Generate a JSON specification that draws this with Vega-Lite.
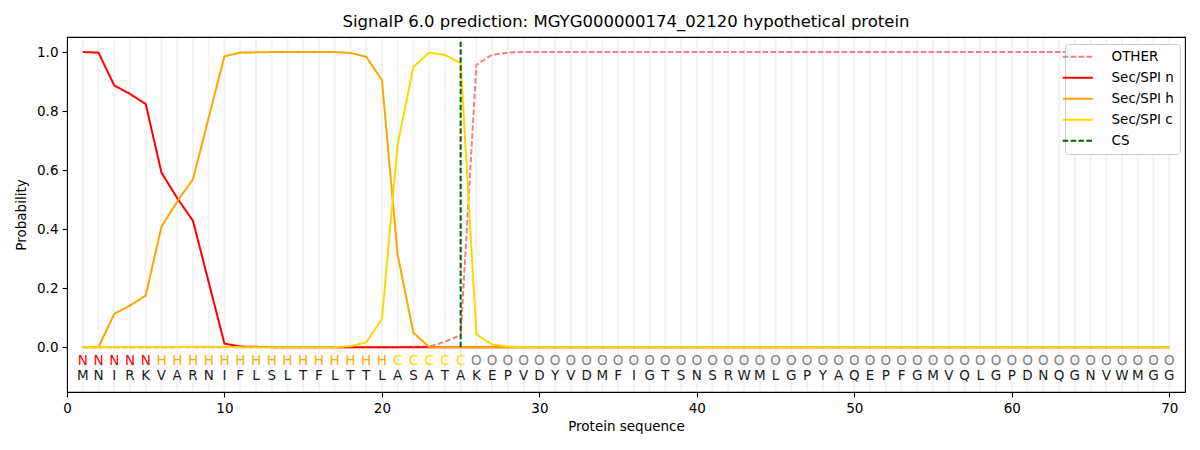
{
  "$schema": "https://vega.github.io/schema/vega-lite/v6.json",
  "description": "SignalP 6.0 per-residue probabilities for MGYG000000174_02120",
  "width": 1118,
  "height": 355,
  "autosize": "none",
  "padding": {"left": 67, "top": 37, "right": 15, "bottom": 58},
  "background": "white",
  "title": {
    "text": "SignalP 6.0 prediction: MGYG000000174_02120 hypothetical protein",
    "fontSize": 16.5,
    "fontWeight": "normal",
    "font": "DejaVu Sans",
    "color": "black",
    "anchor": "middle",
    "offset": 7
  },
  "datasets": {
    "res": [
      {"pos": 1, "aa": "M", "lab": "N", "OTHER": 0, "Sec/SPI n": 1.0, "Sec/SPI h": 0, "Sec/SPI c": 0},
      {"pos": 2, "aa": "N", "lab": "N", "OTHER": 0, "Sec/SPI n": 0.998, "Sec/SPI h": 0.0, "Sec/SPI c": 0},
      {"pos": 3, "aa": "I", "lab": "N", "OTHER": 0, "Sec/SPI n": 0.887, "Sec/SPI h": 0.113, "Sec/SPI c": 0},
      {"pos": 4, "aa": "R", "lab": "N", "OTHER": 0, "Sec/SPI n": 0.858, "Sec/SPI h": 0.141, "Sec/SPI c": 0},
      {"pos": 5, "aa": "K", "lab": "N", "OTHER": 0, "Sec/SPI n": 0.824, "Sec/SPI h": 0.175, "Sec/SPI c": 0},
      {"pos": 6, "aa": "V", "lab": "H", "OTHER": 0, "Sec/SPI n": 0.591, "Sec/SPI h": 0.408, "Sec/SPI c": 0},
      {"pos": 7, "aa": "A", "lab": "H", "OTHER": 0, "Sec/SPI n": 0.505, "Sec/SPI h": 0.494, "Sec/SPI c": 0},
      {"pos": 8, "aa": "R", "lab": "H", "OTHER": 0, "Sec/SPI n": 0.428, "Sec/SPI h": 0.569, "Sec/SPI c": 0.001},
      {"pos": 9, "aa": "N", "lab": "H", "OTHER": 0, "Sec/SPI n": 0.22, "Sec/SPI h": 0.778, "Sec/SPI c": 0.001},
      {"pos": 10, "aa": "I", "lab": "H", "OTHER": 0, "Sec/SPI n": 0.012, "Sec/SPI h": 0.986, "Sec/SPI c": 0.001},
      {"pos": 11, "aa": "F", "lab": "H", "OTHER": 0, "Sec/SPI n": 0.002, "Sec/SPI h": 0.998, "Sec/SPI c": 0},
      {"pos": 12, "aa": "L", "lab": "H", "OTHER": 0, "Sec/SPI n": 0.001, "Sec/SPI h": 0.999, "Sec/SPI c": 0},
      {"pos": 13, "aa": "S", "lab": "H", "OTHER": 0, "Sec/SPI n": 0, "Sec/SPI h": 1.0, "Sec/SPI c": 0},
      {"pos": 14, "aa": "L", "lab": "H", "OTHER": 0, "Sec/SPI n": 0, "Sec/SPI h": 1.0, "Sec/SPI c": 0},
      {"pos": 15, "aa": "T", "lab": "H", "OTHER": 0, "Sec/SPI n": 0, "Sec/SPI h": 1.0, "Sec/SPI c": 0},
      {"pos": 16, "aa": "F", "lab": "H", "OTHER": 0, "Sec/SPI n": 0, "Sec/SPI h": 1.0, "Sec/SPI c": 0},
      {"pos": 17, "aa": "L", "lab": "H", "OTHER": 0, "Sec/SPI n": 0, "Sec/SPI h": 1.0, "Sec/SPI c": 0},
      {"pos": 18, "aa": "T", "lab": "H", "OTHER": 0, "Sec/SPI n": 0, "Sec/SPI h": 0.997, "Sec/SPI c": 0.003},
      {"pos": 19, "aa": "T", "lab": "H", "OTHER": 0, "Sec/SPI n": 0, "Sec/SPI h": 0.984, "Sec/SPI c": 0.016},
      {"pos": 20, "aa": "L", "lab": "H", "OTHER": 0, "Sec/SPI n": 0, "Sec/SPI h": 0.905, "Sec/SPI c": 0.095},
      {"pos": 21, "aa": "A", "lab": "C", "OTHER": 0, "Sec/SPI n": 0, "Sec/SPI h": 0.312, "Sec/SPI c": 0.687},
      {"pos": 22, "aa": "S", "lab": "C", "OTHER": 0.001, "Sec/SPI n": 0, "Sec/SPI h": 0.049, "Sec/SPI c": 0.95},
      {"pos": 23, "aa": "A", "lab": "C", "OTHER": 0.002, "Sec/SPI n": 0, "Sec/SPI h": 0.0, "Sec/SPI c": 0.998},
      {"pos": 24, "aa": "T", "lab": "C", "OTHER": 0.018, "Sec/SPI n": 0, "Sec/SPI h": 0, "Sec/SPI c": 0.99},
      {"pos": 25, "aa": "A", "lab": "C", "OTHER": 0.041, "Sec/SPI n": 0, "Sec/SPI h": 0, "Sec/SPI c": 0.962},
      {"pos": 26, "aa": "K", "lab": "O", "OTHER": 0.957, "Sec/SPI n": 0, "Sec/SPI h": 0, "Sec/SPI c": 0.043},
      {"pos": 27, "aa": "E", "lab": "O", "OTHER": 0.991, "Sec/SPI n": 0, "Sec/SPI h": 0, "Sec/SPI c": 0.009},
      {"pos": 28, "aa": "P", "lab": "O", "OTHER": 0.998, "Sec/SPI n": 0, "Sec/SPI h": 0, "Sec/SPI c": 0.002},
      {"pos": 29, "aa": "V", "lab": "O", "OTHER": 1.0, "Sec/SPI n": 0, "Sec/SPI h": 0, "Sec/SPI c": 0},
      {"pos": 30, "aa": "D", "lab": "O", "OTHER": 1.0, "Sec/SPI n": 0, "Sec/SPI h": 0, "Sec/SPI c": 0},
      {"pos": 31, "aa": "Y", "lab": "O", "OTHER": 1.0, "Sec/SPI n": 0, "Sec/SPI h": 0, "Sec/SPI c": 0},
      {"pos": 32, "aa": "V", "lab": "O", "OTHER": 1.0, "Sec/SPI n": 0, "Sec/SPI h": 0, "Sec/SPI c": 0},
      {"pos": 33, "aa": "D", "lab": "O", "OTHER": 1.0, "Sec/SPI n": 0, "Sec/SPI h": 0, "Sec/SPI c": 0},
      {"pos": 34, "aa": "M", "lab": "O", "OTHER": 1.0, "Sec/SPI n": 0, "Sec/SPI h": 0, "Sec/SPI c": 0},
      {"pos": 35, "aa": "F", "lab": "O", "OTHER": 1.0, "Sec/SPI n": 0, "Sec/SPI h": 0, "Sec/SPI c": 0},
      {"pos": 36, "aa": "I", "lab": "O", "OTHER": 1.0, "Sec/SPI n": 0, "Sec/SPI h": 0, "Sec/SPI c": 0},
      {"pos": 37, "aa": "G", "lab": "O", "OTHER": 1.0, "Sec/SPI n": 0, "Sec/SPI h": 0, "Sec/SPI c": 0},
      {"pos": 38, "aa": "T", "lab": "O", "OTHER": 1.0, "Sec/SPI n": 0, "Sec/SPI h": 0, "Sec/SPI c": 0},
      {"pos": 39, "aa": "S", "lab": "O", "OTHER": 1.0, "Sec/SPI n": 0, "Sec/SPI h": 0, "Sec/SPI c": 0},
      {"pos": 40, "aa": "N", "lab": "O", "OTHER": 1.0, "Sec/SPI n": 0, "Sec/SPI h": 0, "Sec/SPI c": 0},
      {"pos": 41, "aa": "S", "lab": "O", "OTHER": 1.0, "Sec/SPI n": 0, "Sec/SPI h": 0, "Sec/SPI c": 0},
      {"pos": 42, "aa": "R", "lab": "O", "OTHER": 1.0, "Sec/SPI n": 0, "Sec/SPI h": 0, "Sec/SPI c": 0},
      {"pos": 43, "aa": "W", "lab": "O", "OTHER": 1.0, "Sec/SPI n": 0, "Sec/SPI h": 0, "Sec/SPI c": 0},
      {"pos": 44, "aa": "M", "lab": "O", "OTHER": 1.0, "Sec/SPI n": 0, "Sec/SPI h": 0, "Sec/SPI c": 0},
      {"pos": 45, "aa": "L", "lab": "O", "OTHER": 1.0, "Sec/SPI n": 0, "Sec/SPI h": 0, "Sec/SPI c": 0},
      {"pos": 46, "aa": "G", "lab": "O", "OTHER": 1.0, "Sec/SPI n": 0, "Sec/SPI h": 0, "Sec/SPI c": 0},
      {"pos": 47, "aa": "P", "lab": "O", "OTHER": 1.0, "Sec/SPI n": 0, "Sec/SPI h": 0, "Sec/SPI c": 0},
      {"pos": 48, "aa": "Y", "lab": "O", "OTHER": 1.0, "Sec/SPI n": 0, "Sec/SPI h": 0, "Sec/SPI c": 0},
      {"pos": 49, "aa": "A", "lab": "O", "OTHER": 1.0, "Sec/SPI n": 0, "Sec/SPI h": 0, "Sec/SPI c": 0},
      {"pos": 50, "aa": "Q", "lab": "O", "OTHER": 1.0, "Sec/SPI n": 0, "Sec/SPI h": 0, "Sec/SPI c": 0},
      {"pos": 51, "aa": "E", "lab": "O", "OTHER": 1.0, "Sec/SPI n": 0, "Sec/SPI h": 0, "Sec/SPI c": 0},
      {"pos": 52, "aa": "P", "lab": "O", "OTHER": 1.0, "Sec/SPI n": 0, "Sec/SPI h": 0, "Sec/SPI c": 0},
      {"pos": 53, "aa": "F", "lab": "O", "OTHER": 1.0, "Sec/SPI n": 0, "Sec/SPI h": 0, "Sec/SPI c": 0},
      {"pos": 54, "aa": "G", "lab": "O", "OTHER": 1.0, "Sec/SPI n": 0, "Sec/SPI h": 0, "Sec/SPI c": 0},
      {"pos": 55, "aa": "M", "lab": "O", "OTHER": 1.0, "Sec/SPI n": 0, "Sec/SPI h": 0, "Sec/SPI c": 0},
      {"pos": 56, "aa": "V", "lab": "O", "OTHER": 1.0, "Sec/SPI n": 0, "Sec/SPI h": 0, "Sec/SPI c": 0},
      {"pos": 57, "aa": "Q", "lab": "O", "OTHER": 1.0, "Sec/SPI n": 0, "Sec/SPI h": 0, "Sec/SPI c": 0},
      {"pos": 58, "aa": "L", "lab": "O", "OTHER": 1.0, "Sec/SPI n": 0, "Sec/SPI h": 0, "Sec/SPI c": 0},
      {"pos": 59, "aa": "G", "lab": "O", "OTHER": 1.0, "Sec/SPI n": 0, "Sec/SPI h": 0, "Sec/SPI c": 0},
      {"pos": 60, "aa": "P", "lab": "O", "OTHER": 1.0, "Sec/SPI n": 0, "Sec/SPI h": 0, "Sec/SPI c": 0},
      {"pos": 61, "aa": "D", "lab": "O", "OTHER": 1.0, "Sec/SPI n": 0, "Sec/SPI h": 0, "Sec/SPI c": 0},
      {"pos": 62, "aa": "N", "lab": "O", "OTHER": 1.0, "Sec/SPI n": 0, "Sec/SPI h": 0, "Sec/SPI c": 0},
      {"pos": 63, "aa": "Q", "lab": "O", "OTHER": 1.0, "Sec/SPI n": 0, "Sec/SPI h": 0, "Sec/SPI c": 0},
      {"pos": 64, "aa": "G", "lab": "O", "OTHER": 1.0, "Sec/SPI n": 0, "Sec/SPI h": 0, "Sec/SPI c": 0},
      {"pos": 65, "aa": "N", "lab": "O", "OTHER": 1.0, "Sec/SPI n": 0, "Sec/SPI h": 0, "Sec/SPI c": 0},
      {"pos": 66, "aa": "V", "lab": "O", "OTHER": 1.0, "Sec/SPI n": 0, "Sec/SPI h": 0, "Sec/SPI c": 0},
      {"pos": 67, "aa": "W", "lab": "O", "OTHER": 1.0, "Sec/SPI n": 0, "Sec/SPI h": 0, "Sec/SPI c": 0},
      {"pos": 68, "aa": "M", "lab": "O", "OTHER": 1.0, "Sec/SPI n": 0, "Sec/SPI h": 0, "Sec/SPI c": 0},
      {"pos": 69, "aa": "G", "lab": "O", "OTHER": 1.0, "Sec/SPI n": 0, "Sec/SPI h": 0, "Sec/SPI c": 0},
      {"pos": 70, "aa": "G", "lab": "O", "OTHER": 1.0, "Sec/SPI n": 0, "Sec/SPI h": 0, "Sec/SPI c": 0}
    ],
    "cs": [
      {"pos": 25, "series": "CS", "lo": 0, "hi": 1.035}
    ]
  },
  "layer": [
    {
      "data": {"name": "res"},
      "mark": {"type": "rule", "color": "#f3f3f3", "strokeWidth": 2},
      "encoding": {
        "x": {"field": "pos", "type": "quantitative"},
        "y": {"datum": -0.148},
        "y2": {"datum": 1.047}
      }
    },
    {
      "data": {"name": "res"},
      "transform": [
        {"fold": ["OTHER", "Sec/SPI n", "Sec/SPI h", "Sec/SPI c"], "as": ["series", "prob"]}
      ],
      "mark": {"type": "line", "strokeWidth": 2},
      "encoding": {
        "x": {"field": "pos", "type": "quantitative"},
        "y": {"field": "prob", "type": "quantitative"},
        "color": {
          "field": "series",
          "type": "nominal",
          "scale": {
            "domain": ["OTHER", "Sec/SPI n", "Sec/SPI h", "Sec/SPI c", "CS"],
            "range": ["#f08080", "#ff0000", "#ffa500", "#ffd700", "#006400"]
          },
          "legend": {
            "title": null,
            "orient": "none",
            "legendX": 998,
            "legendY": 7,
            "symbolType": "M-3,0H3",
            "symbolSize": 100,
            "symbolStrokeWidth": 2,
            "symbolFillColor": "transparent",
            "labelFontSize": 13.5,
            "labelColor": "black",
            "rowPadding": 6,
            "padding": 6,
            "fillColor": "white",
            "strokeColor": "#cccccc",
            "cornerRadius": 3,
            "labelOffset": 27
          }
        },
        "strokeDash": {
          "field": "series",
          "type": "nominal",
          "scale": {
            "domain": ["OTHER", "Sec/SPI n", "Sec/SPI h", "Sec/SPI c", "CS"],
            "range": [[5.5, 2.4], [1, 0], [1, 0], [1, 0], [5.5, 2.4]]
          },
          "legend": {
            "title": null,
            "orient": "none",
            "legendX": 998,
            "legendY": 7,
            "symbolType": "M-3,0H3",
            "symbolSize": 100,
            "symbolStrokeWidth": 2,
            "symbolFillColor": "transparent",
            "labelFontSize": 13.5,
            "labelColor": "black",
            "rowPadding": 6,
            "padding": 6,
            "fillColor": "white",
            "strokeColor": "#cccccc",
            "cornerRadius": 3,
            "labelOffset": 27
          }
        }
      }
    },
    {
      "data": {"name": "cs"},
      "mark": {"type": "rule", "strokeWidth": 2},
      "encoding": {
        "x": {"field": "pos", "type": "quantitative"},
        "y": {"field": "lo", "type": "quantitative"},
        "y2": {"field": "hi"},
        "color": {"field": "series", "type": "nominal"},
        "strokeDash": {"field": "series", "type": "nominal"}
      }
    },
    {
      "data": {"name": "res"},
      "mark": {"type": "text", "fontSize": 13.5, "baseline": "middle", "align": "center"},
      "encoding": {
        "x": {"field": "pos", "type": "quantitative"},
        "y": {"datum": -0.047},
        "text": {"field": "lab"},
        "color": {
          "condition": [
            {"test": "datum.lab === 'N'", "value": "#ff0000"},
            {"test": "datum.lab === 'H'", "value": "#ffa500"},
            {"test": "datum.lab === 'C'", "value": "#ffd700"}
          ],
          "value": "#808080"
        }
      }
    },
    {
      "data": {"name": "res"},
      "mark": {"type": "text", "fontSize": 13.5, "baseline": "middle", "align": "center", "color": "#1a1a1a"},
      "encoding": {
        "x": {"field": "pos", "type": "quantitative"},
        "y": {"datum": -0.099},
        "text": {"field": "aa"}
      }
    }
  ],
  "encoding": {
    "x": {
      "type": "quantitative",
      "scale": {"domain": [0, 71], "nice": false, "zero": false},
      "axis": {"title": "Protein sequence", "values": [0, 10, 20, 30, 40, 50, 60, 70], "format": "d"}
    },
    "y": {
      "type": "quantitative",
      "scale": {"domain": [-0.152, 1.051], "nice": false, "zero": false},
      "axis": {"title": "Probability", "values": [0, 0.2, 0.4, 0.6, 0.8, 1.0], "format": ".1f"}
    }
  },
  "config": {
    "font": "DejaVu Sans",
    "view": {"stroke": "black", "strokeWidth": 1.1},
    "axis": {
      "grid": false,
      "domain": false,
      "tickColor": "black",
      "tickSize": 5,
      "tickWidth": 1.1,
      "labelPadding": 4,
      "labelFontSize": 13.5,
      "labelColor": "black",
      "titleFontSize": 13.5,
      "titleFontWeight": "normal",
      "titleColor": "black"
    },
    "axisX": {"titlePadding": 5, "labelFlush": false},
    "axisY": {"titlePadding": 8, "labelFlush": false}
  }
}
